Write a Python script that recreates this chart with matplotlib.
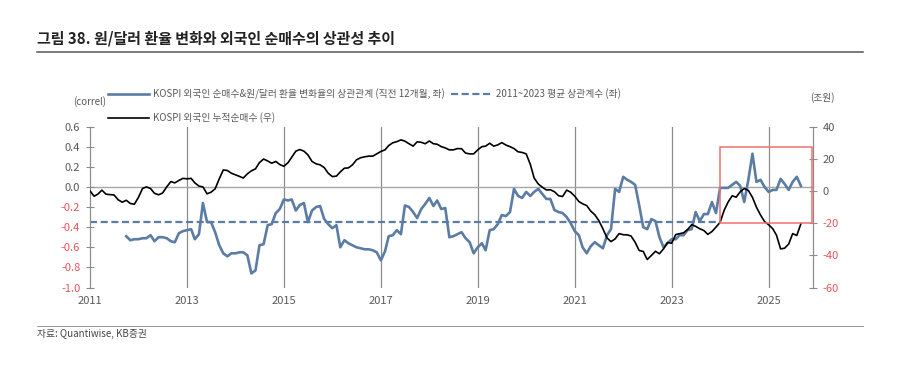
import matplotlib.pyplot as plt
import matplotlib.dates as mdates
from matplotlib.patches import Rectangle
from matplotlib.lines import Line2D
import pandas as pd

plt.rcParams['font.family'] = ['Noto Sans CJK KR', 'DejaVu Sans']
plt.rcParams['axes.unicode_minus'] = False

# monthly, Jan 2011 .. Sep 2025
months = pd.date_range('2011-01-01', '2025-09-01', freq='MS')

# KOSPI foreign cumulative net buying (trillion won, right axis)
flow = [0, -3.3, -2, 0.5, -2, -2.3, -2.5, -5.5, -7, -5.8, -7.8, -8.3,
        -4, 1.5, 2.5, 1.5, -1.5, -2.4, -1.3, 2.5, 5.8, 5, 6.5, 7.8,
        7.5, 7.8, 5, 3, 2.5, -1.8, -0.8, 1.3, 7.5, 13, 12.7, 11,
        10, 9, 8, 10.6, 12.5, 13.7, 17.6, 19.8, 18.6, 17.2, 18.3, 16.4,
        15.3, 17.5, 20.9, 24.7, 25.7, 24.7, 22.4, 18.3, 16.8, 16.2, 14.5, 11,
        8.9, 9.2, 11.8, 14.1, 14.3, 16.2, 19.3, 20.6, 21.2, 21.6, 21.6, 23,
        24.5, 25.5, 28.2, 29.9, 30.6, 31.7, 30.9, 29.3, 27.8, 30.5, 30.2, 29.3,
        31, 29.3, 29, 27.5, 26.7, 25.5, 25.5, 26.3, 26.2, 23.5, 23, 23,
        25.5, 27.5, 27.8, 29.6, 27.8, 28.6, 30, 28.5, 27.5, 26.3, 24.3, 23.9,
        23, 16.5, 8, 4.3, 2.3, 0.6, 0.7, -0.5, -3, -3.5, 0.5, -0.8,
        -3.3, -6.6, -8, -9.1, -12.5, -14.8, -18.4, -23.5, -29.2, -31.5, -29.8, -26.5,
        -27.2, -27.3, -28, -31.9, -37, -37.6, -42.6, -40.1, -37.5, -39, -36, -32,
        -32.5, -27.1, -26.6, -26, -24, -21, -22, -23.5, -24.6, -27, -25.2, -22.5,
        -19.5, -12, -7, -3, -3.9, -0.5, 1.5, 0.3, -4, -10.1, -15, -19,
        -21, -23.5, -27.5, -36, -35.6, -33, -26.5, -27.7, -20.4]

# 12-month rolling correlation, starts Oct 2011 (left axis)
corr_months = months[9:]
corr = [-0.49, -0.53, -0.52, -0.52, -0.51, -0.51, -0.48, -0.54, -0.50, -0.50, -0.51, -0.54,
        -0.55, -0.46, -0.44, -0.43, -0.42, -0.52, -0.47, -0.16, -0.35, -0.35, -0.45, -0.58,
        -0.66, -0.69, -0.66, -0.66, -0.65, -0.65, -0.68, -0.86, -0.83, -0.58, -0.57, -0.38,
        -0.37, -0.26, -0.22, -0.125, -0.135, -0.125, -0.235, -0.18, -0.16, -0.35, -0.235, -0.20,
        -0.19, -0.32, -0.37, -0.41, -0.38, -0.60, -0.53, -0.56, -0.58, -0.60, -0.61, -0.62,
        -0.62, -0.63, -0.65, -0.73, -0.64, -0.49, -0.48, -0.43, -0.47, -0.185, -0.20, -0.25,
        -0.31, -0.22, -0.17, -0.11, -0.19, -0.135, -0.22, -0.21, -0.50, -0.49, -0.47, -0.45,
        -0.51, -0.55, -0.66, -0.60, -0.56, -0.63, -0.43, -0.42, -0.37, -0.28, -0.29, -0.25,
        -0.02, -0.09, -0.11, -0.05, -0.09, -0.05, -0.02, -0.07, -0.12, -0.12, -0.23, -0.25,
        -0.26, -0.30, -0.36, -0.44, -0.48, -0.60, -0.66, -0.59, -0.55, -0.58, -0.61, -0.48,
        -0.42, -0.02, -0.05, 0.10, 0.07, 0.05, 0.02, -0.18, -0.40, -0.42, -0.32, -0.34,
        -0.50, -0.60, -0.56, -0.52, -0.52, -0.48, -0.48, -0.43, -0.42, -0.25, -0.34, -0.27,
        -0.27, -0.15, -0.26, -0.01, -0.01, -0.01, 0.02, 0.05, 0.01, -0.15, 0.07, 0.33,
        0.05, 0.07, 0.00, -0.05, -0.03, -0.03, 0.08, 0.03, -0.03, 0.05, 0.10, 0.01]

avg_corr = -0.35
avg_end = pd.Timestamp('2024-01-01')

left_ticks = [0.6, 0.4, 0.2, 0.0, -0.2, -0.4, -0.6, -0.8, -1.0]
left_labels = ['0.6', '0.4', '0.2', '0.0', '-0.2', '-0.4', '-0.6', '-0.8', '-1.0']
right_ticks = [40, 20, 0, -20, -40, -60]
right_labels = ['40', '20', '0', '-20', '-40', '-60']
years = [2011, 2013, 2015, 2017, 2019, 2021, 2023, 2025]

# highlight box (right-axis units)
box_start, box_end = pd.Timestamp('2024-01-01'), pd.Timestamp('2025-11-25')
box_low, box_high = -20, 27

blue = '#5b7ca5'
red = '#e8525c'
grey = '#595959'
axcol = '#8c8c8c'

fig = plt.figure(figsize=(9, 3.71), dpi=100)
ax = fig.add_axes([0.1, 0.225, 0.8033, 0.434])
ax2 = ax.twinx()

for y in years[1:]:
    ax.axvline(pd.Timestamp(f'{y}-01-01'), color=axcol, lw=0.9, zorder=1)
ax.axhline(0, color='#a6a6a6', lw=1.0, zorder=1)

l1, = ax.plot(corr_months, corr, color=blue, lw=1.9, zorder=3)
l3, = ax.plot([months[0], avg_end], [avg_corr, avg_corr], color=blue, lw=1.6,
              linestyle=(0, (3.2, 1.6)), zorder=3)
l2, = ax2.plot(months, flow, color='black', lw=1.2, zorder=3)

x0, x1 = mdates.date2num(box_start), mdates.date2num(box_end)
ax2.add_patch(Rectangle((x0, box_low), x1 - x0, box_high - box_low,
                        fill=False, edgecolor='#f07070', lw=1.1, zorder=4))

ax.set_xlim(pd.Timestamp('2011-01-01'), pd.Timestamp('2025-12-01'))
ax.set_ylim(-1.0, 0.6)
ax2.set_ylim(-60, 40)

ax.set_xticks([pd.Timestamp(f'{y}-01-01') for y in years])
ax.set_xticklabels([str(y) for y in years])
ax.tick_params(axis='x', length=0, pad=6, labelsize=8, labelcolor=grey)

ax.set_yticks(left_ticks)
ax.set_yticklabels(left_labels)
ax.tick_params(axis='y', direction='inout', length=6, width=0.8, color=axcol,
               labelsize=8, pad=4)
for t, v in zip(ax.get_yticklabels(), left_ticks):
    t.set_color(red if v < 0 else grey)

ax2.set_yticks(right_ticks)
ax2.set_yticklabels(right_labels)
ax2.tick_params(axis='y', direction='inout', length=6, width=0.8, color=axcol,
                labelsize=8, pad=4)
for t, v in zip(ax2.get_yticklabels(), right_ticks):
    t.set_color(red if v < 0 else grey)

for a in (ax, ax2):
    a.spines['top'].set_visible(False)
    a.spines['bottom'].set_visible(False)
    a.spines['left'].set_color(axcol)
    a.spines['right'].set_color(axcol)
    a.spines['left'].set_linewidth(0.8)
    a.spines['right'].set_linewidth(0.8)

leg1 = fig.legend([l1, l2], ['KOSPI 외국인 순매수&원/달러 환율 변화율의 상관관계 (직전 12개월, 좌)',
                             'KOSPI 외국인 누적순매수 (우)'],
                  loc='upper left', bbox_to_anchor=(108 / 900, 1 - 88.5 / 371),
                  frameon=False, fontsize=7, handlelength=4.2, handletextpad=0.4,
                  labelspacing=1.3, borderpad=0, borderaxespad=0, labelcolor=grey)
fig.legend([l3], ['2011~2023 평균 상관계수 (좌)'],
           loc='upper left', bbox_to_anchor=(451 / 900, 1 - 88.5 / 371),
           frameon=False, fontsize=7, handlelength=4.2, handletextpad=0.4,
           borderpad=0, borderaxespad=0, labelcolor=grey)

fig.text(106 / 900, 1 - 102 / 371, '(correl)', ha='right', va='center', fontsize=7, color=grey)
fig.text(822 / 900, 1 - 98 / 371, '(조원)', ha='center', va='center', fontsize=7, color=grey)

fig.text(37 / 900, 1 - 38 / 371, '그림 38. 원/달러 환율 변화와 외국인 순매수의 상관성 추이',
         ha='left', va='center', fontsize=10.8, fontweight='bold', color='#222222')
fig.add_artist(Line2D([37 / 900, 863 / 900], [1 - 52 / 371, 1 - 52 / 371],
                      transform=fig.transFigure, color='#555555', lw=1.1))
fig.add_artist(Line2D([37 / 900, 863 / 900], [1 - 325.5 / 371, 1 - 325.5 / 371],
                      transform=fig.transFigure, color='#999999', lw=0.7))
fig.text(37 / 900, 1 - 334 / 371, '자료: Quantiwise, KB증권', ha='left', va='center',
         fontsize=7, color='#444444')

fig.savefig('out.png', dpi=100)
